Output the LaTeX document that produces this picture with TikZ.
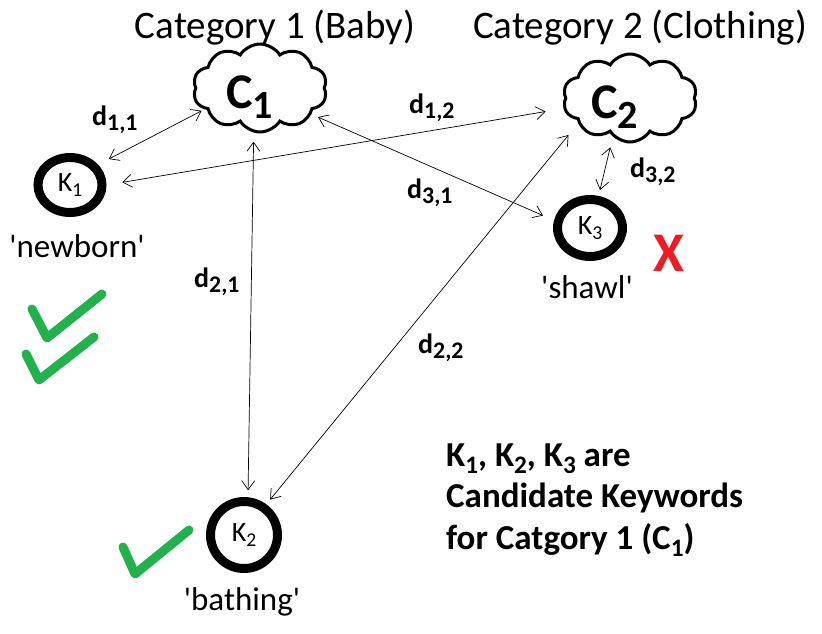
\documentclass[tikz,border=0pt]{standalone}
\usepackage{fontspec}
\setmainfont{Carlito}
\usetikzlibrary{shapes.geometric,shapes.symbols,arrows.meta}
\newcommand\lsub[2][0.78]{\raisebox{-0.2em}{\scalebox{#1}{#2}}}
\newcommand\sq{\textquotesingle}
\definecolor{chk}{HTML}{22B14C}
\definecolor{xred}{HTML}{ED1C24}
\begin{document}
\begin{tikzpicture}[x=1pt,y=-1pt,
  kw/.style={ellipse, draw, line width=9pt, inner sep=0pt, font=\fontsize{28}{28}\selectfont},
  cat/.style={cloud, draw, line width=3pt, cloud puffs=10, cloud puff arc=115, cloud ignores aspect, inner sep=0pt, minimum width=134pt, minimum height=88pt},
  ctext/.style={anchor=base west, inner sep=0pt, font=\bfseries\fontsize{50}{50}\selectfont},
  title/.style={anchor=base, inner sep=0pt, font=\fontsize{39}{39}\selectfont},
  word/.style={anchor=base, inner sep=0pt, font=\fontsize{33}{33}\selectfont},
  dl/.style={anchor=base west, inner sep=0pt, font=\bfseries\fontsize{28}{28}\selectfont},
  note/.style={anchor=base west, inner sep=0pt, font=\bfseries\fontsize{35}{35}\selectfont},
  conn/.style={line width=0.7pt, {Straight Barb[length=9pt,width=13pt]}-{Straight Barb[length=9pt,width=13pt]}},
  tick/.style={draw=chk, line width=9pt, line cap=round, line join=round},
]
\useasboundingbox (0,0) rectangle (822,633);

% titles
\node[title] (t1) at (275,38) {Category 1 (Baby)};
\node[title] (t2) at (640,38) {Category 2 (Clothing)};

% category clouds
\node[cat] (c1) at (260,88) {};
\node[cat] (c2) at (630,98) {};
\node[ctext] (c1t) at (226,108) {C\lsub[0.8]{1}};
\node[ctext] (c2t) at (591,118) {C\lsub[0.8]{2}};

% keywords
\node[kw, minimum width=64pt, minimum height=55pt] (k1) at (70,185) {K\lsub[0.7]{1}};
\node[kw, minimum width=65pt, minimum height=57pt] (k3) at (590,228) {K\lsub[0.7]{3}};
\node[kw, minimum width=67pt, minimum height=67pt] (k2) at (244,535) {K\lsub[0.7]{2}};
\node[word] (w1) at (77,257) {\sq newborn\sq};
\node[word] (w3) at (587,298) {\sq shawl\sq};
\node[word] (w2) at (242,610) {\sq bathing\sq};

% connectors
\draw[conn, shorten <=12pt, shorten >=3pt] (k1.36) -- (c1.201);
\draw[conn, shorten <=16pt, shorten >=18pt] (k1.east) -- (c2.189);
\draw[conn, shorten <=7pt, shorten >=12pt] (c1.333) -- (k3.168);
\draw[conn, shorten <=9pt, shorten >=7pt] (c1.262) -- (k2.84);
\draw[conn, shorten <=15pt, shorten >=6pt] (c2.206) -- (k2.54);
\draw[conn, shorten <=11pt, shorten >=6pt] (c2.246) -- (k3.75);

% distance labels
\node[dl] (d11) at (92,125) {d\lsub[0.85]{1,1}};
\node[dl] (d12) at (409,113) {d\lsub[0.85]{1,2}};
\node[dl] (d31) at (407,198) {d\lsub[0.85]{3,1}};
\node[dl] (d32) at (630,177) {d\lsub[0.85]{3,2}};
\node[dl] (d21) at (194,287) {d\lsub[0.85]{2,1}};
\node[dl] (d22) at (418,353) {d\lsub[0.85]{2,2}};

% marks
\draw[tick] (32,309) -- (47,338) -- (102,294);
\draw[tick] (26,354) -- (39,380) -- (94,337);
\draw[tick] (123,547) -- (135,574) -- (189,530);
\node[font=\bfseries\fontsize{56}{56}\selectfont, text=xred, inner sep=0pt] (xm) at (669,253) {X};

% note
\node[note] (n1) at (446,466) {K\lsub[0.72]{1}, K\lsub[0.72]{2}, K\lsub[0.72]{3} are};
\node[note] (n2) at (446,507) {Candidate Keywords};
\node[note] (n3) at (446,549) {for Catgory 1 (C\lsub[0.72]{1})};
\end{tikzpicture}
\end{document}
